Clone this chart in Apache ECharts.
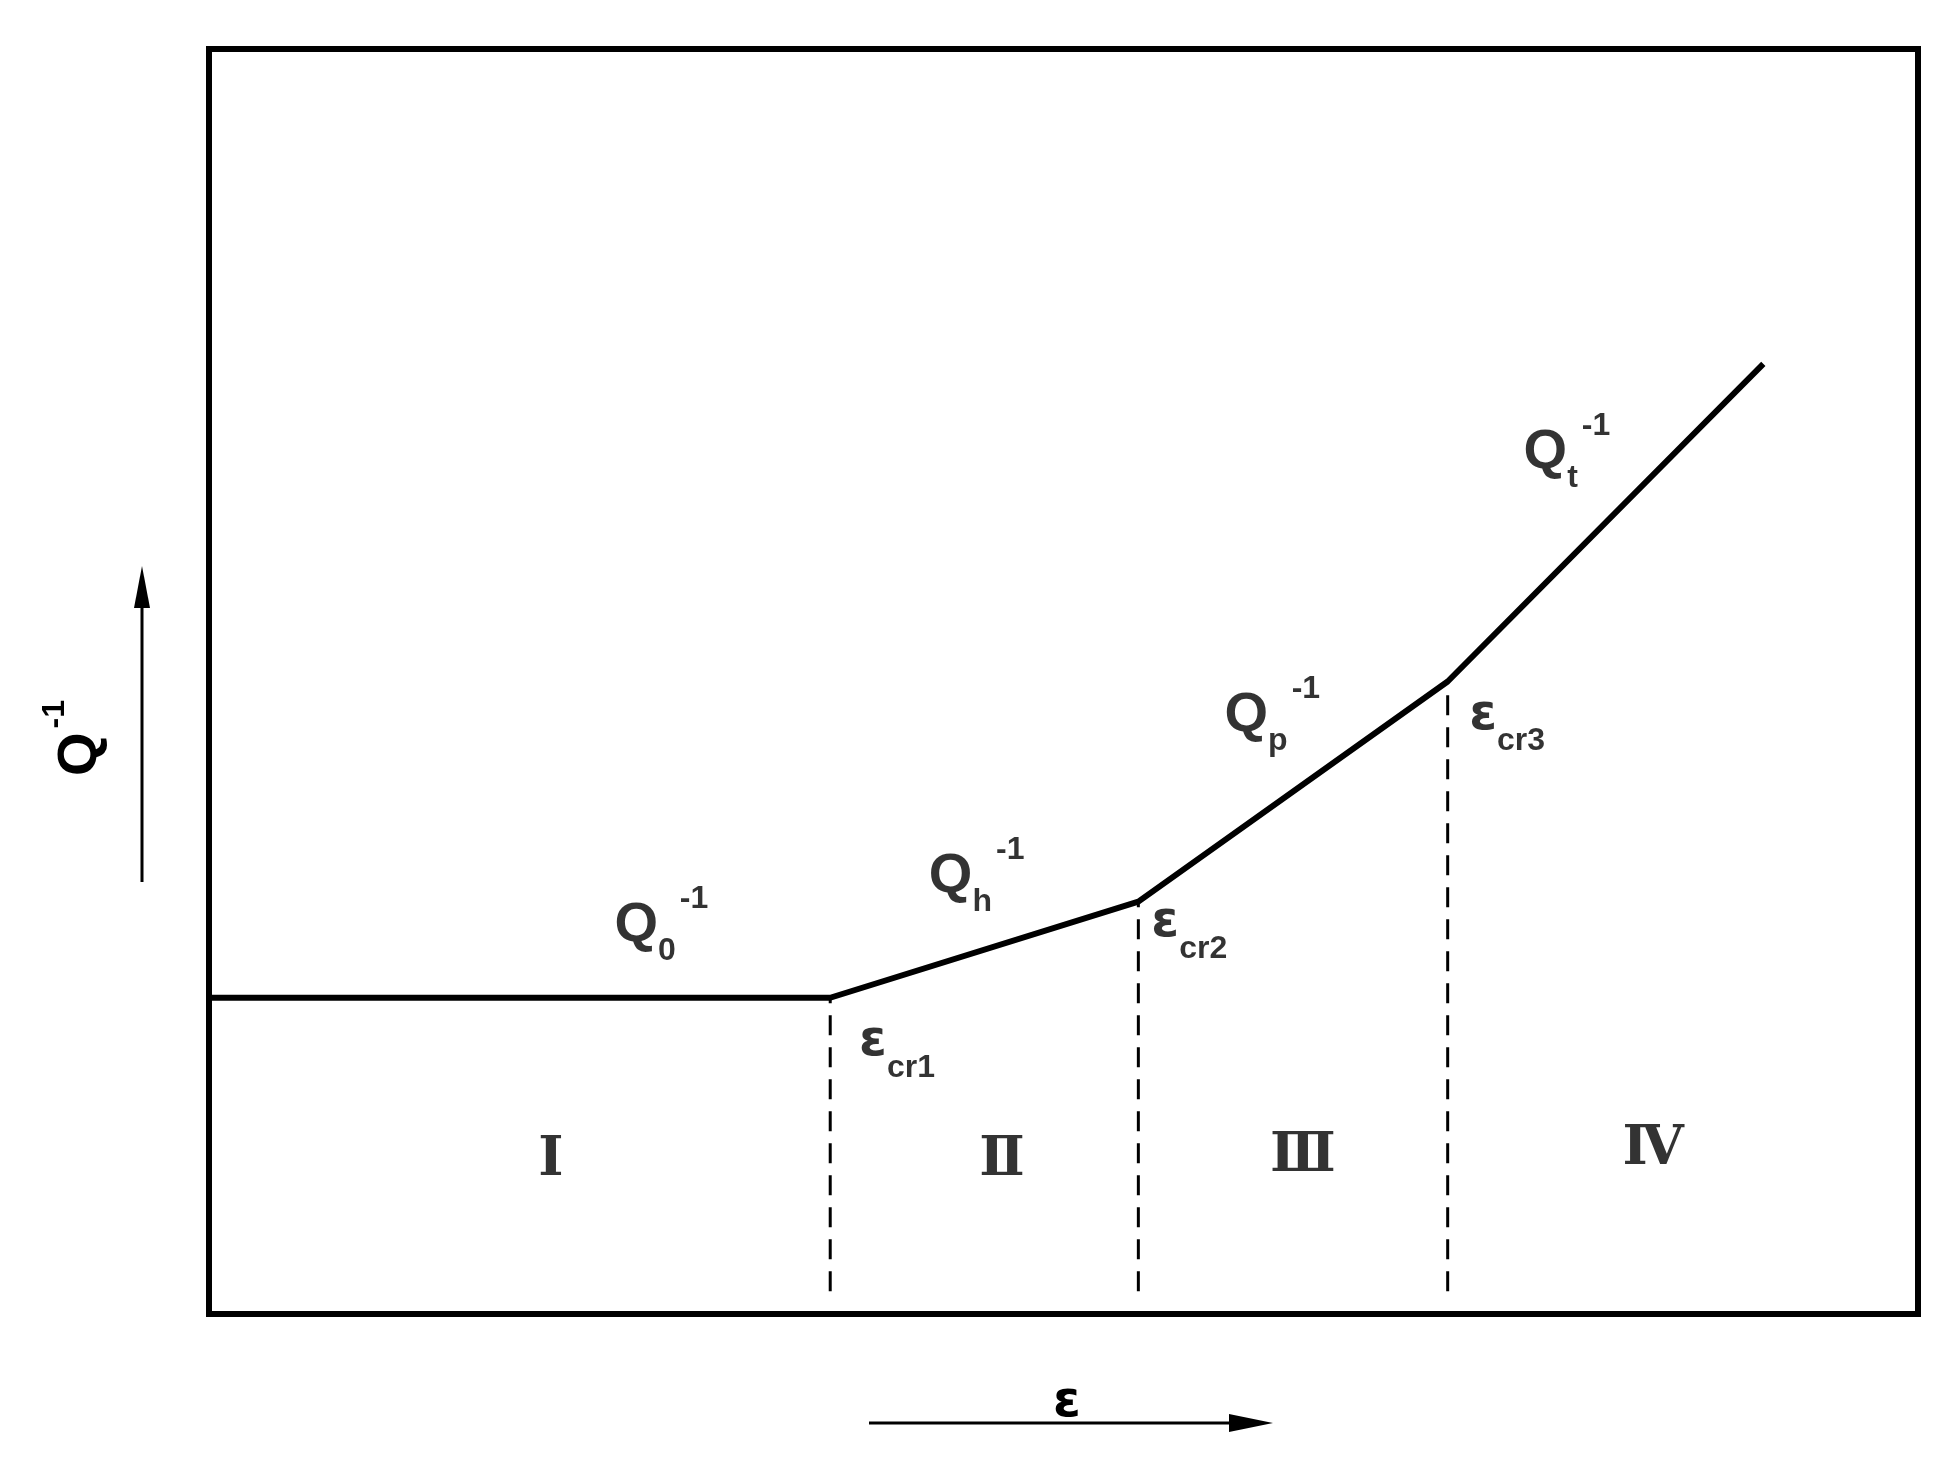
<!DOCTYPE html>
<html><head><meta charset="utf-8">
<script src="https://cdn.jsdelivr.net/npm/echarts@6/dist/echarts.min.js"></script>
<style>html,body{margin:0;padding:0;background:#fff}#c{width:1956px;height:1464px}</style>
</head><body><div id="c"></div>
<script>
const curveX = [0, 36.35, 54.38, 72.48, 90.95];
const curveY = [25.0, 25.0, 32.6, 50.0, 75.1];
const critX = [36.35, 54.38, 72.48];
const critY = [25.0, 32.6, 50.0];
const critBottom = 1.8;
const qLabels = [['0',24.6,30.7],['h',43.0,34.6],['p',60.3,47.3],['t',77.8,68.1]];
const epsLabels = [['cr1',38.8,21.5],['cr2',55.9,30.9],['cr3',74.5,47.3]];
const regions = [['Ⅰ',20.0,12.1],['Ⅱ',46.4,12.1],['Ⅲ',64.0,12.4],['Ⅳ',84.5,13.0]];

const chart = echarts.init(document.getElementById('c'));
const F = 'Liberation Sans, Arial, sans-serif';
const rich = {
  q:{fontFamily:F,fontWeight:'bold',fontSize:56,color:'#000',lineHeight:84,verticalAlign:'middle'},
  e:{fontFamily:'DejaVu Sans',fontWeight:'bold',fontSize:50,color:'#000',lineHeight:84,verticalAlign:'middle'},
  sub:{fontFamily:F,fontWeight:'bold',fontSize:32,color:'#000',lineHeight:84,verticalAlign:'bottom'},
  sup:{fontFamily:F,fontWeight:'bold',fontSize:32,color:'#000',lineHeight:84,verticalAlign:'top',padding:[0,0,0,4]}
};
chart.setOption({
  animation:false,
  grid:{left:209,right:38,top:49,bottom:150,show:true,borderColor:'#000',borderWidth:6},
  xAxis:{type:'value',min:0,max:100,show:false},
  yAxis:{type:'value',min:0,max:100,show:false},
  series:[
    {type:'line',data:curveX.map((x,i)=>[x,curveY[i]]),symbol:'none',lineStyle:{color:'#000',width:6}},
    ...critX.map((x,i)=>({type:'line',data:[[x,critBottom],[x,critY[i]]],symbol:'none',lineStyle:{color:'#000',width:3,type:[20,12]}})),
    {type:'scatter',symbolSize:0,data:qLabels.map(d=>({value:[d[1],d[2]],name:d[0]})),
      label:{show:true,color:'#000',position:'right',offset:[-20,0],formatter:p=>'{q|Q}{sub|'+p.name+'}{sup|-1}',rich}},
    {type:'scatter',symbolSize:0,data:epsLabels.map(d=>({value:[d[1],d[2]],name:d[0]})),
      label:{show:true,color:'#000',position:'right',offset:[-18,0],formatter:p=>'{e|ε}{sub|'+p.name+'}',rich}},
    {type:'scatter',symbolSize:0,data:regions.map(d=>({value:[d[1],d[2]],name:d[0]})),
      label:{show:true,position:'inside',formatter:p=>p.name,fontFamily:'DejaVu Serif',fontWeight:'bold',fontSize:54,color:'#000'}}
  ],
  graphic:[
    {type:'line',shape:{x1:142,y1:882,x2:142,y2:600},style:{stroke:'#000',lineWidth:3}},
    {type:'polygon',shape:{points:[[142,566],[134,608],[150,608]]},style:{fill:'#000'}},
    {type:'text',x:81,y:738,rotation:Math.PI/2,style:{text:'{q|Q}{sup|-1}',rich:rich,align:'center',verticalAlign:'middle'}},
    {type:'line',shape:{x1:869,y1:1423,x2:1235,y2:1423},style:{stroke:'#000',lineWidth:3}},
    {type:'polygon',shape:{points:[[1273,1423],[1229,1414],[1229,1432]]},style:{fill:'#000'}},
    {type:'text',x:1067,y:1403,style:{text:'ε',fontFamily:'DejaVu Sans',fontWeight:'bold',fontSize:50,fill:'#000',align:'center',verticalAlign:'middle'}}
  ]
});
</script></body></html>
